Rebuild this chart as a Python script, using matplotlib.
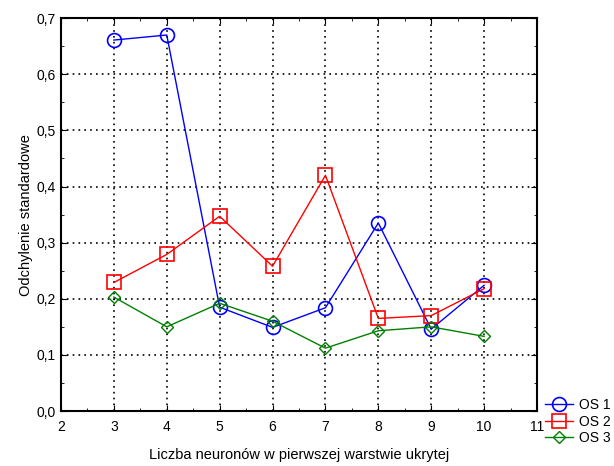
import matplotlib
matplotlib.use("Agg")
import matplotlib.pyplot as plt
from matplotlib.ticker import MultipleLocator

neurons = [3, 4, 5, 6, 7, 8, 9, 10]
os1 = [0.661, 0.670, 0.185, 0.149, 0.184, 0.335, 0.146, 0.224]
os2 = [0.229, 0.279, 0.347, 0.258, 0.420, 0.165, 0.170, 0.218]
os3 = [0.203, 0.150, 0.192, 0.160, 0.112, 0.143, 0.150, 0.133]

plt.rcParams['font.family'] = ['Liberation Sans', 'DejaVu Sans']

fig = plt.figure(figsize=(6.14, 4.66), dpi=100)
ax = fig.add_axes([0.0993, 0.118, 0.7753, 0.843])

ax.plot(neurons, os1, '-', color='blue', lw=1, marker='o', ms=10,
        mfc='none', mec='blue', mew=1.2, label='OS 1')
ax.plot(neurons, os2, '-', color='red', lw=1, marker='s', ms=10,
        mfc='none', mec='red', mew=1.2, label='OS 2')
ax.plot(neurons, os3, '-', color='green', lw=1, marker='D', ms=6,
        mfc='none', mec='green', mew=1.0, label='OS 3')

ax.set_xlim(2, 11)
ax.set_ylim(0, 0.7)
ax.xaxis.set_major_locator(MultipleLocator(1))
ax.xaxis.set_minor_locator(MultipleLocator(0.5))
ax.yaxis.set_major_locator(MultipleLocator(0.1))
ax.yaxis.set_minor_locator(MultipleLocator(0.05))
ax.yaxis.set_major_formatter(plt.FuncFormatter(lambda v, p: f"{v:.1f}".replace('.', ',')))

ax.grid(True, which='major', color='black', linestyle=(0, (1, 2.5)), lw=1.2)
ax.tick_params(which='both', direction='in', top=True, right=True, labelsize=10)
ax.tick_params(which='major', length=4)
ax.tick_params(which='minor', length=2.5)
ax.tick_params(axis='x', which='major', pad=6.5)
ax.tick_params(axis='y', which='major', pad=4)
for s in ax.spines.values():
    s.set_linewidth(1.5)

ax.set_xlabel('Liczba neuronów w pierwszej warstwie ukrytej', fontsize=10.5, labelpad=10)
ax.set_ylabel('Odchylenie standardowe', fontsize=10.5, labelpad=2)

ax.legend(loc='upper left', bbox_to_anchor=(1.0, 0.055), frameon=False,
          fontsize=10, handlelength=2.0, borderaxespad=0.2, labelspacing=0.2,
          handletextpad=0.4)

fig.savefig('out.png', dpi=100)
